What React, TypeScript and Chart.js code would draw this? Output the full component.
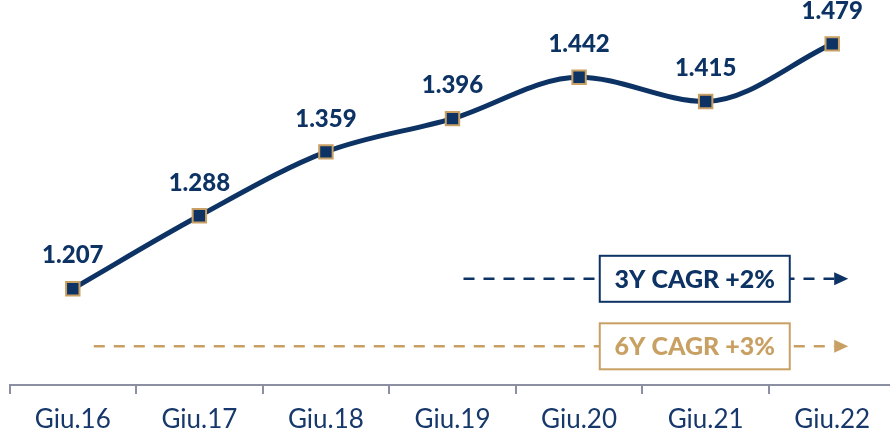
import React, { useEffect, useRef } from "react";
import { Chart, registerables } from "chart.js";

Chart.register(...registerables);

const categories = ["Giu.16", "Giu.17", "Giu.18", "Giu.19", "Giu.20", "Giu.21", "Giu.22"];
const values = [1207, 1288, 1359, 1396, 1442, 1415, 1479];
const cagrLabels = ["3Y CAGR +2%", "6Y CAGR +3%"];
const cagrLevels = [1218, 1143];
const cagrStarts = [3, 0];

const NAVY = "#0d3364";
const GOLD = "#c9a063";
const GREY = "#8c8fa1";

function fmt(v: number): string {
  const s = String(Math.round(v));
  return s.replace(/\B(?=(\d{3})+(?!\d))/g, ".");
}

const labelsPlugin = {
  id: "valueLabels",
  afterDatasetsDraw(chart: any) {
    const ctx = chart.ctx;
    const meta = chart.getDatasetMeta(0);
    ctx.save();
    ctx.font = "900 24px Lato";
    ctx.fillStyle = NAVY;
    ctx.textAlign = "center";
    ctx.textBaseline = "middle";
    meta.data.forEach((pt: any, i: number) => {
      ctx.fillText(fmt(values[i]), pt.x, pt.y - 33);
    });
    ctx.restore();
  },
};

const cagrPlugin = {
  id: "cagr",
  afterDraw(chart: any) {
    const ctx = chart.ctx;
    const xs = chart.scales.x;
    const ys = chart.scales.y;
    const colors = [NAVY, GOLD];
    ctx.save();
    for (let k = 0; k < 2; k++) {
      const y = ys.getPixelForValue(cagrLevels[k]);
      const x0 = xs.getPixelForValue(cagrStarts[k]) + (k === 0 ? 11 : 21);
      const tip = xs.getPixelForValue(6) + 16;
      const c = colors[k];
      ctx.strokeStyle = c;
      ctx.lineWidth = 2.5;
      ctx.setLineDash([11, 9]);
      ctx.beginPath();
      ctx.moveTo(x0, y);
      ctx.lineTo(tip - 14, y);
      ctx.stroke();
      ctx.setLineDash([]);
      ctx.fillStyle = c;
      ctx.beginPath();
      ctx.moveTo(tip, y);
      ctx.lineTo(tip - 14, y - 6.5);
      ctx.lineTo(tip - 14, y + 6.5);
      ctx.closePath();
      ctx.fill();
      const cx = xs.getPixelForValue(4.914);
      const bw = 190;
      const bh = 46;
      ctx.fillStyle = "#ffffff";
      ctx.fillRect(cx - bw / 2, y - bh / 2, bw, bh);
      ctx.lineWidth = 2;
      ctx.strokeStyle = c;
      ctx.strokeRect(cx - bw / 2, y - bh / 2, bw, bh);
      ctx.fillStyle = c;
      ctx.font = "900 25px Lato";
      ctx.textAlign = "center";
      ctx.textBaseline = "middle";
      ctx.fillText(cagrLabels[k], cx, y + 1);
    }
    ctx.restore();
  },
};

export default function App() {
  const ref = useRef<HTMLCanvasElement | null>(null);
  useEffect(() => {
    if (!ref.current) return;
    const chart = new Chart(ref.current, {
      type: "line",
      data: {
        labels: categories,
        datasets: [
          {
            data: values,
            borderColor: NAVY,
            borderWidth: 5,
            tension: 0.4,
            cubicInterpolationMode: "monotone",
            pointStyle: "rect",
            pointRadius: 9.5,
            pointBackgroundColor: NAVY,
            pointBorderColor: GOLD,
            pointBorderWidth: 2,
            fill: false,
            clip: false,
          },
        ],
      },
      options: {
        animation: false,
        responsive: false,
        maintainAspectRatio: false,
        layout: { autoPadding: false, padding: { top: 25, left: 9.5, right: 0.5, bottom: 0 } },
        plugins: { legend: { display: false }, tooltip: { enabled: false } },
        scales: {
          x: {
            offset: true,
            afterFit: (scale: any) => {
              scale.height = 47;
            },
            grid: {
              offset: true,
              drawOnChartArea: false,
              drawTicks: true,
              tickLength: 9,
              color: GREY,
              lineWidth: 2,
            },
            border: { color: GREY, width: 2 },
            ticks: {
              font: { family: "Lato", size: 26, lineHeight: 1 },
              color: "#17386a",
              padding: 13,
              maxRotation: 0,
              autoSkip: false,
            },
          },
          y: { display: false, min: 1100, max: 1500 },
        },
      },
      plugins: [labelsPlugin, cagrPlugin],
    });
    return () => chart.destroy();
  }, []);
  return (
    <div style={{ position: "fixed", left: 0, top: 0, width: 890, height: 432, overflow: "hidden", background: "#fff" }}>
      <canvas ref={ref} width={896} height={432} style={{ width: 896, height: 432, display: "block" }} />
    </div>
  );
}
